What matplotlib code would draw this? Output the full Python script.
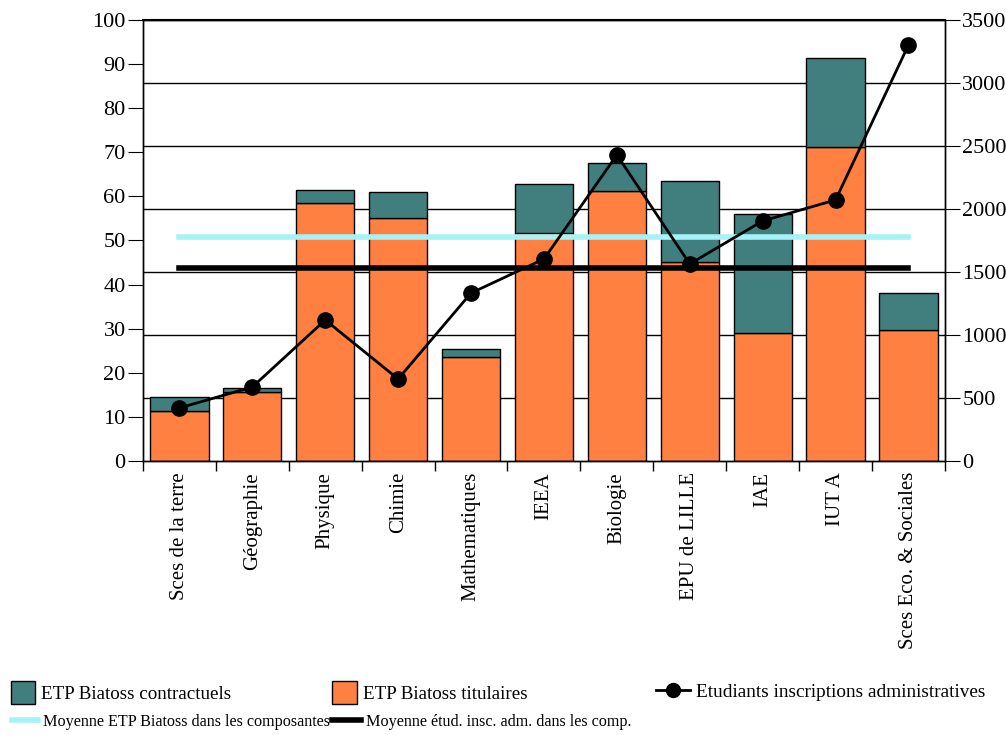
import numpy as np
import matplotlib.pyplot as plt
from matplotlib.patches import Patch
from matplotlib.lines import Line2D

plt.rcParams['font.family'] = ['Liberation Serif', 'DejaVu Serif']

# Data
composantes = ["Sces de la terre", "Géographie", "Physique", "Chimie", "Mathematiques",
               "IEEA", "Biologie", "EPU de LILLE", "IAE", "IUT A", "Sces Eco. & Sociales"]
titulaires = [11.3, 15.6, 58.5, 55.1, 23.6, 51.7, 61.2, 45.1, 29.0, 71.2, 29.7]
contractuels = [3.2, 1.0, 2.9, 5.9, 1.8, 11.1, 6.4, 18.4, 27.0, 20.2, 8.4]
etudiants = [421, 587, 1119, 651, 1333, 1603, 2429, 1564, 1905, 2072, 3302]
moy_etp = 50.8
moy_etud = 1532

col_contr = '#417f7f'
col_tit = '#ff8040'
col_cyan = '#a6f2f8'

fig = plt.figure(figsize=(10.06, 7.35), dpi=100)
ax = fig.add_axes([0.1421, 0.3728, 0.7972, 0.6])
ax2 = ax.twinx()

x = np.arange(len(composantes))

# gridlines following right axis ticks
for v in range(500, 3501, 500):
    ax.axhline(v * 100 / 3500, color='black', lw=1, zorder=0)

ax.bar(x, titulaires, width=0.8, color=col_tit, edgecolor='black', lw=1, zorder=2)
ax.bar(x, contractuels, width=0.8, bottom=titulaires, color=col_contr,
       edgecolor='black', lw=1, zorder=2)
ax.plot([x[0], x[-1]], [moy_etp, moy_etp], color=col_cyan, lw=4, zorder=3)

ax2.plot([x[0], x[-1]], [moy_etud, moy_etud], color='black', lw=4, zorder=1)
ax2.plot(x, etudiants, color='black', lw=2, marker='o', markersize=11, zorder=2)

ax.set_xlim(-0.5, len(composantes) - 0.5)
ax.set_ylim(0, 100)
ax2.set_ylim(0, 3500)
ax.set_yticks(range(0, 101, 10))
ax2.set_yticks(range(0, 3501, 500))

ax.set_xticks(x)
ax.set_xticklabels(composantes, rotation=90)
ax.set_xticks(np.arange(-0.5, len(composantes)), minor=True)
ax.tick_params(axis='x', which='major', length=0, pad=8, labelsize=15)
ax.tick_params(axis='x', which='minor', length=7, width=1)
ax.tick_params(axis='y', labelsize=16, length=10.5, pad=2)
ax2.tick_params(axis='y', labelsize=16, length=10.5, pad=2)

for a in (ax, ax2):
    for s in a.spines.values():
        s.set_linewidth(1)
ax.spines['top'].set_linewidth(1.5)

# Legends
def leg(handles, labels, xpos, ypos, size, **kw):
    fig.legend(handles, labels, loc='center left', bbox_to_anchor=(xpos, ypos),
               frameon=False, fontsize=size, borderpad=0, handletextpad=0.3, **kw)

leg([Patch(facecolor=col_contr, edgecolor='black')], ["ETP Biatoss contractuels"],
    0.001, 0.058, 13.7, handlelength=1.3, handleheight=1.5)
leg([Patch(facecolor=col_tit, edgecolor='black')], ["ETP Biatoss titulaires"],
    0.321, 0.058, 13.7, handlelength=1.3, handleheight=1.5)
leg([Line2D([], [], color='black', lw=2, marker='o', markersize=10)],
    ["Etudiants inscriptions administratives"], 0.642, 0.058, 13.9, handlelength=1.8)
leg([Line2D([], [], color=col_cyan, lw=4)], ["Moyenne ETP Biatoss dans les composantes"],
    0.004, 0.018, 11.6, handlelength=1.6)
leg([Line2D([], [], color='black', lw=4)], ["Moyenne étud. insc. adm. dans les comp."],
    0.322, 0.018, 11.6, handlelength=1.8)

plt.savefig('out.png', dpi=100)
